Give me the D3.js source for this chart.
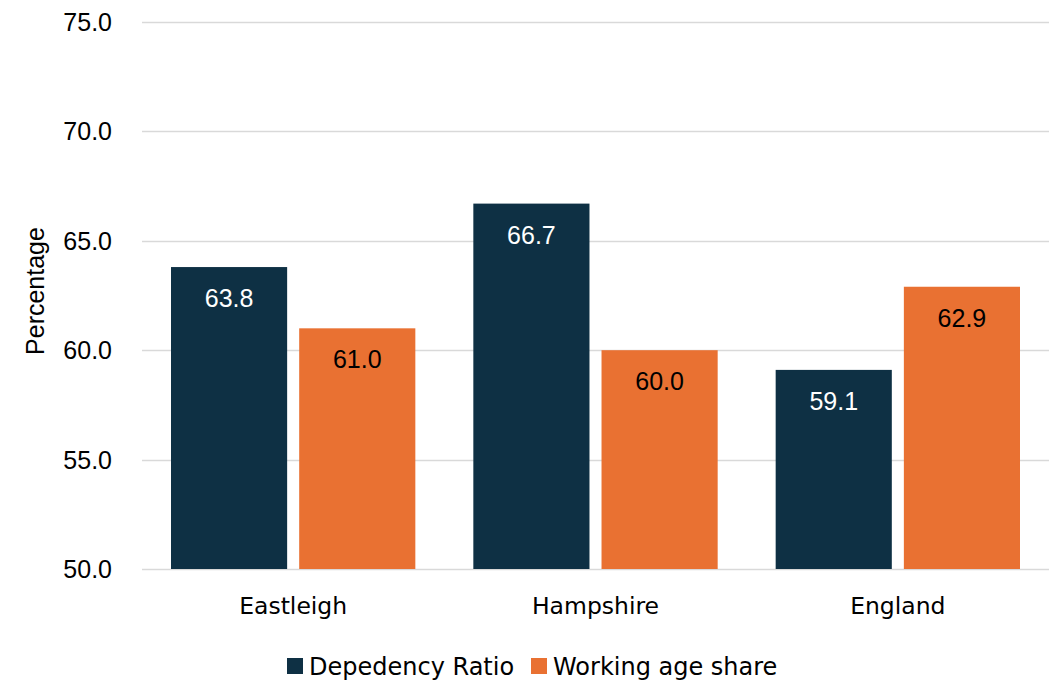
<!DOCTYPE html>
<html><head><meta charset="utf-8">
<script src="https://cdn.jsdelivr.net/npm/d3@7"></script>
<style>body{margin:0;background:#fff}svg{display:block}</style>
</head><body>
<svg id="c" width="1053" height="680"></svg>
<script>
const categories = ["Eastleigh", "Hampshire", "England"];
const seriesNames = ["Depedency Ratio", "Working age share"];
const dependencyRatio = [63.8, 66.7, 59.1];
const workingAgeShare = [61.0, 60.0, 62.9];
const yTicks = [50, 55, 60, 65, 70, 75];
const colors = ["#0E3044", "#E97132"];
const labelColors = ["#ffffff", "#000000"];

(function() {
const series = [dependencyRatio, workingAgeShare];
const svg = d3.select("#c");
const mLeft = 142, mRight = 1049, mTop = 22, mBottom = 569;
const numFont = "Liberation Sans, Arial, sans-serif";
const txtFont = "DejaVu Sans, sans-serif";

const y = d3.scaleLinear().domain([50, 75]).range([mBottom, mTop]);
const x0 = d3.scaleBand().domain(categories).range([mLeft, mRight]).padding(0);
const x1 = d3.scaleBand().domain([0, 1]).range([29, x0.bandwidth() - 29]).paddingInner(0.094);

// gridlines
svg.append("g").selectAll("line").data(yTicks).join("line")
  .attr("x1", mLeft).attr("x2", mRight)
  .attr("y1", d => Math.round(y(d)) + 0.5).attr("y2", d => Math.round(y(d)) + 0.5)
  .attr("stroke", "#d9d9d9").attr("stroke-width", 1.5);

// y tick labels
svg.append("g").selectAll("text").data(yTicks).join("text")
  .attr("x", 112).attr("y", d => y(d)).attr("dy", "0.36em")
  .attr("text-anchor", "end")
  .attr("font-family", numFont).attr("font-size", 25)
  .attr("fill", "#000").text(d => d.toFixed(1));

// y title
svg.append("text").attr("transform", `translate(44,291) rotate(-90)`)
  .attr("text-anchor", "middle")
  .attr("font-family", numFont).attr("font-size", 25)
  .text("Percentage");

// bars
const groups = svg.append("g").selectAll("g").data(categories).join("g")
  .attr("transform", d => `translate(${x0(d)},0)`);
groups.each(function(cat, ci) {
  const g = d3.select(this);
  series.forEach((vals, si) => {
    const v = vals[ci];
    g.append("rect").attr("x", x1(si)).attr("width", x1.bandwidth())
      .attr("y", y(v)).attr("height", y(50) - y(v)).attr("fill", colors[si]);
    g.append("text").attr("x", x1(si) + x1.bandwidth() / 2).attr("y", y(v) + 40)
      .attr("text-anchor", "middle")
      .attr("font-family", numFont).attr("font-size", 25)
      .attr("fill", labelColors[si]).text(v.toFixed(1));
  });
});

// x category labels
svg.append("g").selectAll("text").data(categories).join("text")
  .attr("x", d => x0(d) + x0.bandwidth() / 2).attr("y", 614)
  .attr("text-anchor", "middle")
  .attr("font-family", txtFont).attr("font-size", 23.5)
  .text(d => d);

// legend
const legendX = [287, 531];
const lg = svg.append("g").selectAll("g").data(seriesNames).join("g")
  .attr("transform", (d, i) => `translate(${legendX[i]},658)`);
lg.append("rect").attr("width", 16).attr("height", 16).attr("fill", (d, i) => colors[i]);
lg.append("text").attr("x", 22).attr("y", 17)
  .attr("font-family", txtFont).attr("font-size", 24)
  .text(d => d);
})();
</script>
</body></html>
